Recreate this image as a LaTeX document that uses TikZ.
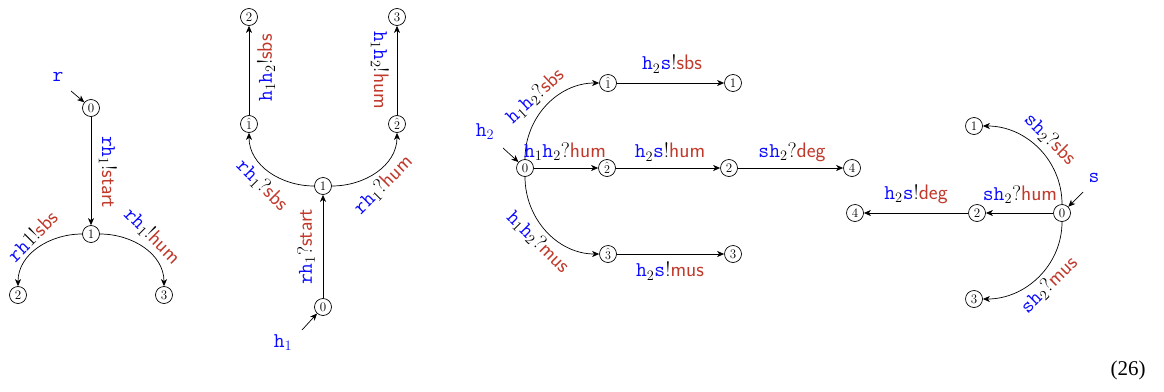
\documentclass[tikz,border=0pt]{standalone}
\usepackage{fontspec}
\newfontfamily\eqfont{Liberation Serif}
\usetikzlibrary{arrows.meta}
\definecolor{ptblue}{RGB}{10,10,255}
\definecolor{msgred}{RGB}{192,57,43}
\newcommand{\pp}[1]{\textcolor{ptblue}{\texttt{#1}}}
\newcommand{\mm}[1]{\textcolor{msgred}{\textsf{#1}}}
\begin{document}
\begin{tikzpicture}[x=1pt,y=1pt,
  st/.style={circle,draw,line width=0.7pt,minimum size=17pt,inner sep=0pt,font=\fontsize{13}{13}\selectfont},
  arr/.style={-{Stealth[length=7pt,width=6pt,inset=2pt]},line width=0.7pt},
  lbl/.style={inner sep=0pt,font=\fontsize{21}{23}\selectfont},
  ini/.style={inner sep=0pt,font=\fontsize{21}{23}\selectfont,text=ptblue}]
\useasboundingbox (0,-391) rectangle (1164,0);

% ---------- automaton r ----------
\node[st] (a0) at (91,-108) {0};
\node[st] (a1) at (91,-234) {1};
\node[st] (a2) at (18,-295) {2};
\node[st] (a3) at (164,-295) {3};
\node[ini] (ar) at (58,-77) {$\mathtt{r}$};
\coordinate (ai) at (71,-91);
\draw[arr] (ai) -- (a0);
\draw[arr] (a0) -- (a1);
\draw[arr] (a1) to[out=180,in=90] (a2);
\draw[arr] (a1) to[out=0,in=90] (a3);
\node[lbl,rotate=-90] (la01) at (108,-172) {\pp{rh}$_1$!\mm{start}};
\node[lbl,rotate=45] (la12) at (32,-236) {\pp{rh}1!\mm{sbs}};
\node[lbl,rotate=-45] (la13) at (152,-236) {\pp{rh}$_1$!\mm{hum}};

% ---------- automaton h1 ----------
\node[st] (b0) at (323,-307) {0};
\node[st] (b1) at (323,-186) {1};
\node[st] (bh1) at (249,-124) {$\hat{1}$};
\node[st] (bh2) at (397,-124) {$\hat{2}$};
\node[st] (b2) at (249,-17) {2};
\node[st] (b3) at (397,-17) {3};
\node[ini] (bh) at (283,-343) {$\mathtt{h}_1$};
\coordinate (bi) at (302,-330);
\draw[arr] (bi) -- (b0);
\draw[arr] (b0) -- (b1);
\draw[arr] (b1) to[out=180,in=-90] (bh1);
\draw[arr] (b1) to[out=0,in=-90] (bh2);
\draw[arr] (bh1) -- (b2);
\draw[arr] (bh2) -- (b3);
\node[lbl,rotate=90] (lb01) at (306,-247) {\pp{rh}$_1$?\mm{start}};
\node[lbl,rotate=-45] (lb11) at (262,-185) {\pp{rh}$_1$?\mm{sbs}};
\node[lbl,rotate=45] (lb12) at (383,-185) {\pp{rh}$_1$?\mm{hum}};
\node[lbl,rotate=90] (lbh1) at (266,-68) {\pp{h}$_1$\pp{h}$_2$!\mm{sbs}};
\node[lbl,rotate=-90] (lbh2) at (380,-70) {\pp{h}$_1$\pp{h}$_2$!\mm{hum}};

% ---------- automaton h2 ----------
\node[st] (c0) at (525,-168) {0};
\node[st] (ch1) at (608,-83) {$\hat{1}$};
\node[st] (ch2) at (607,-168) {$\hat{2}$};
\node[st] (ch3) at (608,-254) {$\hat{3}$};
\node[st] (c1) at (733,-83) {1};
\node[st] (c2) at (729,-168) {2};
\node[st] (c4) at (852,-168) {4};
\node[st] (c3) at (733,-254) {3};
\node[ini] (chh) at (485,-132) {$\mathtt{h}_2$};
\coordinate (ci) at (503,-148);
\draw[arr] (ci) -- (c0);
\draw[arr] (c0) to[out=90,in=180] (ch1);
\draw[arr] (c0) -- (ch2);
\draw[arr] (c0) to[out=-90,in=180] (ch3);
\draw[arr] (ch1) -- (c1);
\draw[arr] (ch2) -- (c2);
\draw[arr] (c2) -- (c4);
\draw[arr] (ch3) -- (c3);
\node[lbl,rotate=43] (lc1) at (535,-96) {\pp{h}$_1$\pp{h}$_2$?\mm{sbs}};
\node[lbl] (lc2) at (565,-152) {\pp{h}$_1$\pp{h}$_2$?\mm{hum}};
\node[lbl,rotate=-45] (lc3) at (538,-242) {\pp{h}$_1$\pp{h}$_2$?\mm{mus}};
\node[lbl] (lc11) at (672,-64) {\pp{h}$_2$\pp{s}!\mm{sbs}};
\node[lbl] (lc22) at (670,-152) {\pp{h}$_2$\pp{s}!\mm{hum}};
\node[lbl] (lc24) at (792,-152) {\pp{sh}$_2$?\mm{deg}};
\node[lbl] (lc33) at (670,-271) {\pp{h}$_2$\pp{s}!\mm{mus}};

% ---------- automaton s ----------
\node[st] (d0) at (1062,-213) {0};
\node[st] (d1) at (974,-126) {1};
\node[st] (d2) at (977,-213) {2};
\node[st] (d4) at (855,-213) {4};
\node[st] (d3) at (974,-299) {3};
\node[ini] (ds) at (1094,-178) {$\mathtt{s}$};
\coordinate (di) at (1083,-192);
\draw[arr] (di) -- (d0);
\draw[arr] (d0) to[out=90,in=0] (d1);
\draw[arr] (d0) -- (d2);
\draw[arr] (d2) -- (d4);
\draw[arr] (d0) to[out=-90,in=0] (d3);
\node[lbl,rotate=-45] (ld1) at (1050,-139) {\pp{sh}$_2$?\mm{sbs}};
\node[lbl] (ld2) at (1020,-195) {\pp{sh}$_2$?\mm{hum}};
\node[lbl] (ld4) at (916,-194) {\pp{h}$_2$\pp{s}!\mm{deg}};
\node[lbl,rotate=45] (ld3) at (1049,-285) {\pp{sh}$_2$?\mm{mus}};

% equation number
\node[inner sep=0pt,font=\eqfont\fontsize{21}{24}\selectfont] (eq) at (1128,-370) {(26)};
\end{tikzpicture}
\end{document}
